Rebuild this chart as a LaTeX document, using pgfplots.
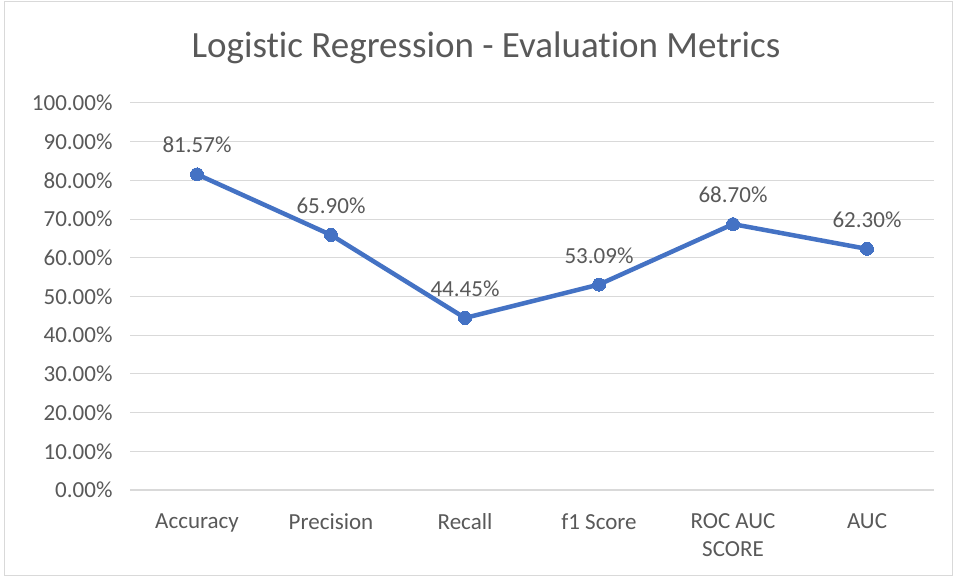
\documentclass[border=0pt]{standalone}
\usepackage{pgfplots}
\pgfplotsset{compat=1.18}
\usepackage{fontspec}
\setmainfont{Carlito}[Ligatures=NoCommon]
\definecolor{xlblue}{HTML}{4472C4}
\definecolor{gridc}{HTML}{D9D9D9}
\definecolor{txt}{HTML}{595959}
\begin{document}
\begin{tikzpicture}[x=1pt,y=1pt]
\fill[white] (0,0) rectangle (956,578);
\draw[gridc, line width=1pt] (4,2) rectangle (952,576);
\node[txt, font=\fontsize{37}{42}\selectfont] at (486,530) {Logistic Regression - Evaluation Metrics};
\begin{axis}[
  at={(130pt,88pt)}, anchor=south west,
  scale only axis, width=804pt, height=387pt,
  xmin=-0.5, xmax=5.5, ymin=0, ymax=1,
  xtick=data,
  xticklabels={Accuracy,Precision,Recall,f1 Score,{ROC AUC\\SCORE},AUC},
  xticklabel style={align=center, font=\fontsize{23}{28}\selectfont, text=txt, yshift=-20pt},
  ytick={0,0.1,...,1.0},
  yticklabel={\pgfmathparse{\tick*100}\pgfmathprintnumber[fixed,fixed zerofill,precision=2]{\pgfmathresult}\%},
  yticklabel style={font=\fontsize{23}{26}\selectfont, text=txt, xshift=-14pt},
  /pgf/number format/assume math mode=true,
  ymajorgrids, grid style={gridc, line width=1pt},
  axis line style={draw=none},
  axis x line*=bottom,
  major tick length=0pt,
  extra y ticks={0}, extra y tick labels={},
  extra y tick style={grid style={gridc, line width=1.2pt}},
  clip=false,
  nodes near coords={\pgfmathprintnumber[fixed,fixed zerofill,precision=2]{\pgfplotspointmeta}\%},
  point meta={y*100},
  nodes near coords style={font=\fontsize{23}{26}\selectfont, text=txt, yshift=18pt},
]
\addplot[xlblue, line width=4.5pt, mark=*, mark size=6.5pt, mark options={fill=xlblue, line width=0pt}]
 coordinates {(0,0.8157) (1,0.6590) (2,0.4445) (3,0.5309) (4,0.6870) (5,0.6230)};
\end{axis}
\end{tikzpicture}
\end{document}
